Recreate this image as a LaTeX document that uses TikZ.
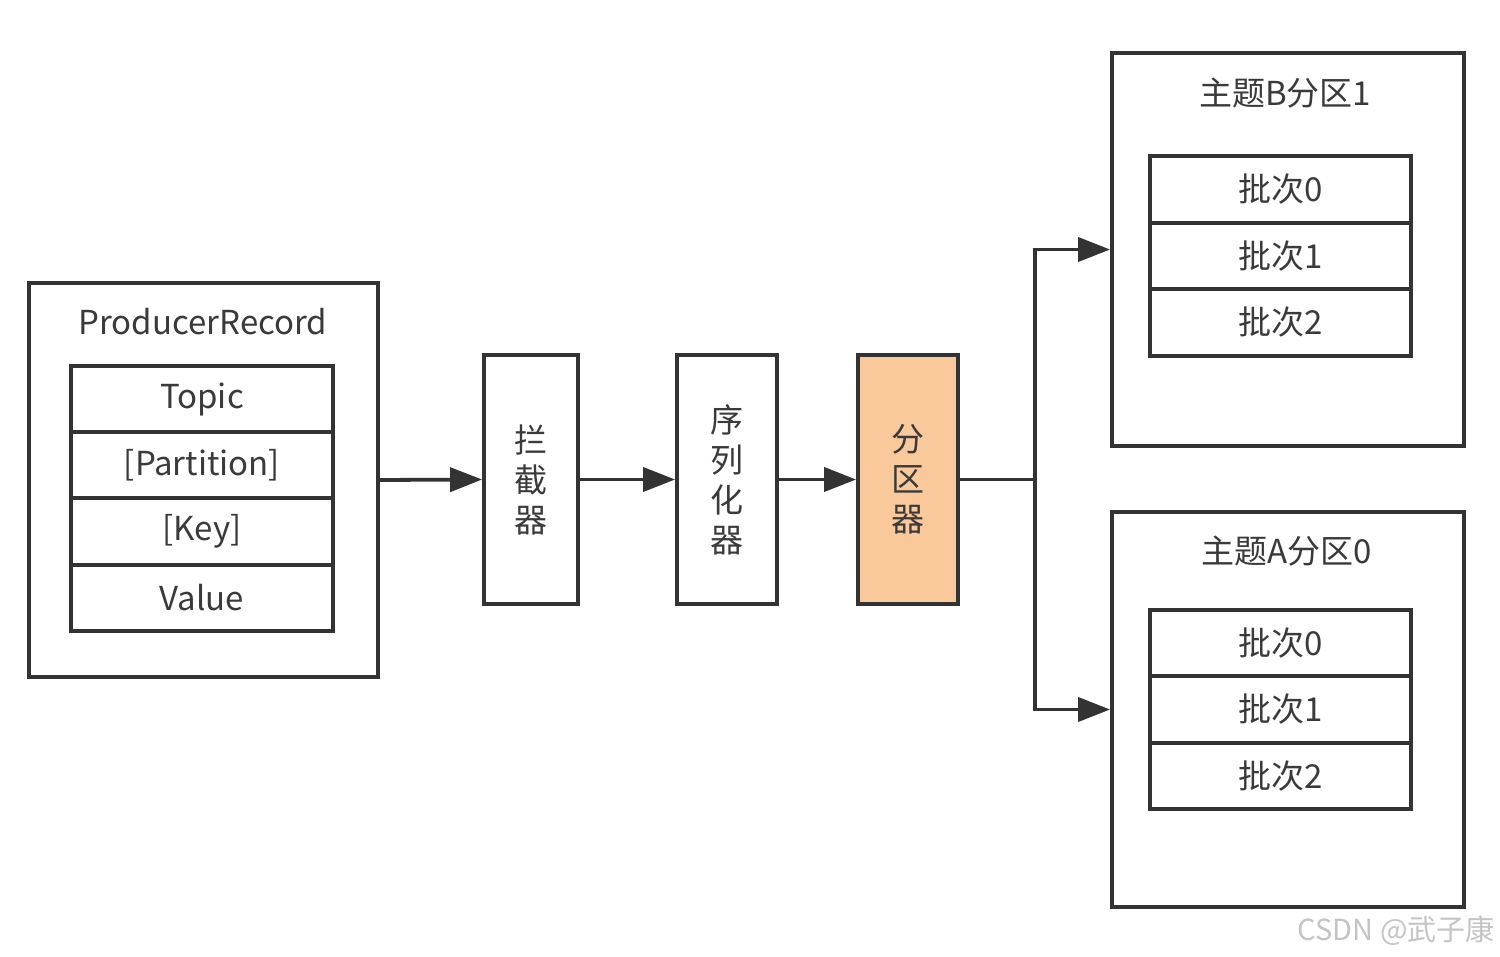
\documentclass[tikz,border=0pt]{standalone}
\usepackage{fontspec}
\setmainfont{Noto Sans CJK SC}
\usetikzlibrary{arrows.meta}
\definecolor{ln}{HTML}{333333}
\definecolor{tx}{HTML}{3A3A3A}
\definecolor{peach}{HTML}{F9C99C}
\definecolor{wm}{HTML}{C4C4C4}
\begin{document}
\begin{tikzpicture}[x=1pt,y=-1pt,
  box/.style={draw=ln,line width=3.8pt,inner sep=0pt,text=tx,font=\fontsize{33}{40}\selectfont},
  row/.style={box,minimum width=262pt,minimum height=66pt},
  vbox/.style={box,minimum height=249pt,align=center},
  ttl/.style={text=tx,inner sep=0pt,font=\fontsize{33}{40}\selectfont},
  arr/.style={draw=ln,line width=3.8pt,-{Triangle[length=32pt,width=24pt]}},
  con/.style={draw=ln,line width=3.8pt}]
\useasboundingbox (0,0) rectangle (1500,957);
% ProducerRecord
\node[box,minimum width=349pt,minimum height=394pt] (pr) at (203.5,480) {};
\node[ttl] (prt) at (203,322) {ProducerRecord};
\node[row] (r1) at (202,399) {Topic};
\node[row] (r2) at (202,465) {[Partition]};
\node[row] (r3) at (202,531.5) {[Key]};
\node[row] (r4) at (202,598) {Value};
% processors
\node[vbox,minimum width=94pt] (ic) at (531,479.5) {拦\\截\\器};
\node[vbox,minimum width=100pt] (se) at (727,479.5) {序\\列\\化\\器};
\node[vbox,minimum width=100pt,fill=peach] (pa) at (908,479.5) {分\\区\\器};
% topic B partition 1
\node[box,minimum width=352pt,minimum height=393pt] (tb) at (1288,249.5) {};
\node[ttl] (tbt) at (1285,93) {主题B分区1};
\node[row,minimum width=261pt,minimum height=66.5pt] (b0) at (1280.5,189.5) {批次0};
\node[row,minimum width=261pt,minimum height=66.5pt] (b1) at (1280.5,256) {批次1};
\node[row,minimum width=261pt,minimum height=66.5pt] (b2) at (1280.5,322.5) {批次2};
% topic A partition 0
\node[box,minimum width=352pt,minimum height=395pt] (ta) at (1288,709.5) {};
\node[ttl] (tat) at (1287,551) {主题A分区0};
\node[row,minimum width=261pt,minimum height=66.5pt] (a0) at (1280.5,643) {批次0};
\node[row,minimum width=261pt,minimum height=66.5pt] (a1) at (1280.5,709.5) {批次1};
\node[row,minimum width=261pt,minimum height=66.5pt] (a2) at (1280.5,776) {批次2};
% connectors
\draw[arr] (pr.east) -- (ic.west);
\draw[arr] (ic.east) -- (se.west);
\draw[arr] (se.east) -- (pa.west);
\coordinate (j) at (1035,479.5);
\draw[con] (pa.east) -- (j);
\draw[arr] (j) |- (tb.west);
\draw[arr] (j) |- (ta.west);
% watermark
\node[text=wm,inner sep=0pt,font=\fontsize{29}{32}\selectfont] (wmk) at (1396,931) {CSDN @武子康};
\end{tikzpicture}
\end{document}
